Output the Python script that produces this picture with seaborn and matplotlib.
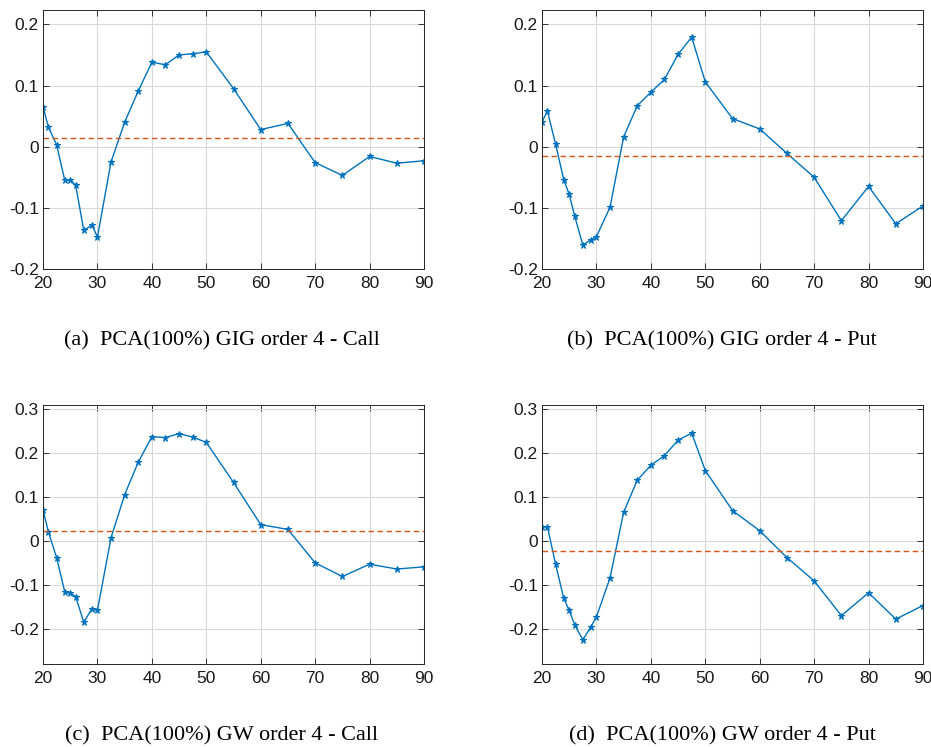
import matplotlib
matplotlib.use("Agg")
import matplotlib.pyplot as plt
import seaborn as sns
import pandas as pd

sns.set_theme(style="white")
plt.rcParams["font.family"] = ["Liberation Sans", "DejaVu Sans"]

# Strike grid shared by all four panels
strikes = [20, 21, 22.5, 24, 25, 26, 27.5, 29, 30, 32.5, 35, 37.5, 40, 42.5,
           45, 47.5, 50, 55, 60, 65, 70, 75, 80, 85, 90]

gig_call = [0.065, 0.032, 0.003, -0.055, -0.054, -0.063, -0.137, -0.128, -0.148,
            -0.025, 0.040, 0.091, 0.138, 0.134, 0.150, 0.152, 0.155, 0.095,
            0.028, 0.038, -0.026, -0.047, -0.016, -0.027, -0.023]
gig_put = [0.041, 0.058, 0.004, -0.054, -0.078, -0.113, -0.161, -0.152, -0.147,
           -0.099, 0.016, 0.067, 0.089, 0.110, 0.151, 0.179, 0.106, 0.046,
           0.029, -0.011, -0.050, -0.121, -0.065, -0.126, -0.097]
gw_call = [0.072, 0.021, -0.037, -0.115, -0.117, -0.126, -0.184, -0.153, -0.157,
           0.008, 0.106, 0.180, 0.238, 0.236, 0.245, 0.237, 0.225, 0.134,
           0.038, 0.027, -0.049, -0.080, -0.052, -0.063, -0.058]
gw_put = [0.033, 0.033, -0.052, -0.130, -0.157, -0.190, -0.224, -0.194, -0.172,
          -0.083, 0.066, 0.139, 0.173, 0.195, 0.230, 0.246, 0.161, 0.070,
          0.024, -0.037, -0.090, -0.169, -0.117, -0.177, -0.146]

# Mean level of each series (dashed reference line)
mean_levels = [0.015, -0.015, 0.023, -0.023]

captions = ["(a)  PCA(100%) GIG order 4 - Call",
            "(b)  PCA(100%) GIG order 4 - Put",
            "(c)  PCA(100%) GW order 4 - Call",
            "(d)  PCA(100%) GW order 4 - Put"]

x_ticks = [20, 30, 40, 50, 60, 70, 80, 90]
y_ticks_top = [-0.2, -0.1, 0, 0.1, 0.2]
y_ticks_bottom = [-0.2, -0.1, 0, 0.1, 0.2, 0.3]

W, H = 931, 747
fig = plt.figure(figsize=(W / 100, H / 100), dpi=100)

# axes boxes in pixels: (left, top, right, bottom)
boxes = [(43, 10, 424, 269), (542, 10, 923, 269),
         (43, 405, 424, 664), (542, 405, 923, 664)]
caption_pos = [(222, 341), (722, 341), (222, 736), (722, 736)]
series = [gig_call, gig_put, gw_call, gw_put]
ylims = [(-0.2, 0.2235), (-0.2, 0.2235), (-0.279, 0.31), (-0.279, 0.31)]
yticks = [y_ticks_top, y_ticks_top, y_ticks_bottom, y_ticks_bottom]

blue = "#0072BD"
orange = "#D95319"


def fmt(v):
    if abs(v) < 1e-12:
        return "0"
    return f"{v:g}"


for i in range(4):
    l, t, r, b = boxes[i]
    ax = fig.add_axes([l / W, 1 - b / H, (r - l) / W, (b - t) / H])
    df = pd.DataFrame({"strike": strikes, "value": series[i]})
    sns.lineplot(data=df, x="strike", y="value", ax=ax, color=blue,
                 linewidth=1.0, marker="*", markersize=5,
                 markeredgecolor=blue, markerfacecolor=blue)
    ax.axhline(mean_levels[i], color=orange, linestyle="--", linewidth=1.0,
               dashes=(4, 2.5))
    ax.set_xlim(20, 90)
    ax.set_ylim(*ylims[i])
    ax.set_xticks(x_ticks)
    ax.set_xticklabels([str(v) for v in x_ticks])
    ax.set_yticks(yticks[i])
    ax.set_yticklabels([fmt(v) for v in yticks[i]])
    ax.set_xlabel("")
    ax.set_ylabel("")
    ax.grid(True, color="#d9d9d9", linewidth=0.8)
    ax.set_axisbelow(True)
    ax.tick_params(direction="in", length=4, width=0.6, labelsize=12.5,
                   top=True, right=True, bottom=True, left=True,
                   colors="#1a1a1a")
    ax.tick_params(axis="x", pad=5)
    ax.tick_params(axis="y", pad=3)
    for s in ax.spines.values():
        s.set_color("#262626")
        s.set_linewidth(0.7)
    cx, cy = caption_pos[i]
    fig.text(cx / W, 1 - cy / H, captions[i], ha="center", va="center",
             fontsize=16, family=["Liberation Serif", "DejaVu Serif"],
             color="black")

fig.savefig("out.png", dpi=100)
